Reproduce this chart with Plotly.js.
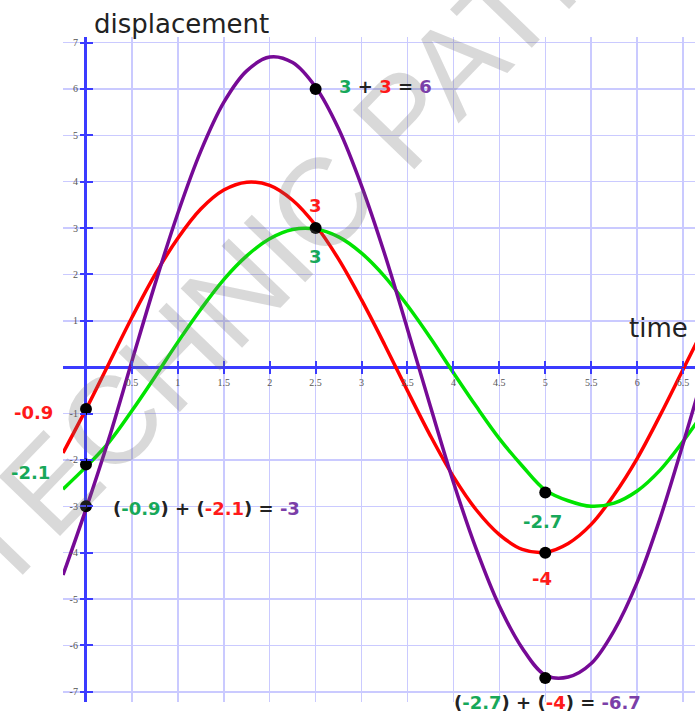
<!DOCTYPE html>
<html>
<head>
<meta charset="utf-8">
<script src="https://cdn.plot.ly/plotly-3.0.1.min.js"></script>
<style>html,body{margin:0;padding:0;background:#fff;}#chart{width:695px;height:713px;}</style>
</head>
<body>
<div id="chart"></div>
<script>
// ---- data ----
const times = [-0.25,0,0.25,0.5,0.75,1,1.25,1.5,1.75,2,2.25,2.5,2.75,3,3.25,3.5,3.75,4,4.25,4.5,4.75,5,5.25,5.5,5.75,6,6.25,6.5,6.75];
const redWave = [-1.85,-0.91,0.08,1.07,1.99,2.78,3.41,3.82,3.99,3.92,3.60,3.06,2.33,1.45,0.49,-0.51,-1.48,-2.36,-3.08,-3.61,-3.93,-3.99,-3.80,-3.39,-2.75,-1.97,-1.04,-0.05,0.94];
const greenWave = [-2.63,-2.15,-1.62,-0.94,-0.21,0.54,1.25,1.89,2.40,2.77,2.97,2.98,2.81,2.46,1.96,1.33,0.63,-0.12,-0.85,-1.54,-2.13,-2.65,-2.88,-3.00,-2.93,-2.67,-2.22,-1.60,-0.90];
const purpleWave = [-4.48,-3.06,-1.54,0.13,1.78,3.32,4.66,5.71,6.39,6.69,6.57,6.04,5.14,3.91,2.45,0.82,-0.85,-2.48,-3.93,-5.15,-6.06,-6.64,-6.68,-6.39,-5.68,-4.64,-3.26,-1.65,0.04];

const dotX = [0,0,0,2.5,2.5,5,5,5];
const dotY = [-0.9,-2.1,-3,3,6,-2.7,-4,-6.7];

const xTickVals = [0.5,1,1.5,2,2.5,3,3.5,4,4.5,5,5.5,6,6.5];
const xTickText = ['0.5','1','1.5','2','2.5','3','3.5','4','4.5','5','5.5','6','6.5'];
const yTickVals = [-7,-6,-5,-4,-3,-2,-1,1,2,3,4,5,6,7];
const yTickText = ['-7','-6','-5','-4','-3','-2','-1','1','2','3','4','5','6','7'];

// ---- styling ----
const RED = '#ff0000', GREEN = '#00e400', PURPLE = '#760a96';
const TG = '#17a85a', TR = '#ff1a1a', TP = '#7b3fa8', TK = '#222222';
const AXIS = '#3b3bff', GRID = '#cacaff';
const xRange = [-0.25, 6.63], yRange = [-7.22, 7.12];
const xPos = (0 - xRange[0]) / (xRange[1] - xRange[0]);
const yPos = (0 - yRange[0]) / (yRange[1] - yRange[0]);

const c = (col, t) => '<span style="color:' + col + '">' + t + '</span>';
const lblFont = {family: 'DejaVu Sans', size: 18, color: TK, weight: 'bold'};

const traces = [
  {x: times, y: redWave, mode: 'lines', line: {color: RED, width: 3.5, shape: 'spline', smoothing: 1}, hoverinfo: 'skip'},
  {x: times, y: greenWave, mode: 'lines', line: {color: GREEN, width: 3.5, shape: 'spline', smoothing: 1}, hoverinfo: 'skip'},
  {x: times, y: purpleWave, mode: 'lines', line: {color: PURPLE, width: 3.5, shape: 'spline', smoothing: 1}, hoverinfo: 'skip'},
  {x: dotX, y: dotY, mode: 'markers', marker: {color: '#000', size: 12}, cliponaxis: false, hoverinfo: 'skip'},
  {x: [null], y: [null], xaxis: 'x2', yaxis: 'y2', mode: 'markers', hoverinfo: 'skip'}
];

const tickFont = {family: 'Liberation Serif', size: 10, color: '#555'};

const layout = {
  width: 695, height: 713,
  margin: {l: 63, r: 0, t: 37, b: 11},
  paper_bgcolor: '#fff', plot_bgcolor: '#fff',
  showlegend: false, hovermode: false,
  xaxis: {
    range: xRange, tickvals: xTickVals, ticktext: xTickText, tickfont: tickFont,
    showgrid: true, gridcolor: GRID, gridwidth: 1.5,
    zeroline: true, zerolinecolor: AXIS, zerolinewidth: 3,
    showline: false, ticks: 'outside', ticklen: 6, tickwidth: 2, tickcolor: AXIS,
    anchor: 'free', position: yPos, fixedrange: true, automargin: false
  },
  yaxis: {
    range: yRange, tickvals: yTickVals, ticktext: yTickText, tickfont: tickFont,
    showgrid: true, gridcolor: GRID, gridwidth: 1.5,
    zeroline: true, zerolinecolor: AXIS, zerolinewidth: 3,
    showline: false, ticks: 'outside', ticklen: 6, tickwidth: 2, tickcolor: AXIS,
    anchor: 'free', position: xPos, fixedrange: true, automargin: false
  },
  xaxis2: {
    overlaying: 'x', range: xRange, tickvals: xTickVals, showticklabels: false,
    showgrid: false, zeroline: false, showline: false,
    ticks: 'inside', ticklen: 6, tickwidth: 2, tickcolor: AXIS,
    anchor: 'free', position: yPos, fixedrange: true
  },
  yaxis2: {
    overlaying: 'y', range: yRange, tickvals: yTickVals, showticklabels: false,
    showgrid: false, zeroline: false, showline: false,
    ticks: 'inside', ticklen: 6, tickwidth: 2, tickcolor: AXIS,
    anchor: 'free', position: xPos, fixedrange: true
  },
  annotations: [
    // watermark
    {x: 2.444, y: 3.276, xref: 'x', yref: 'y', text: 'TECHNIC PATNA', showarrow: false, textangle: -46,
     font: {family: 'Liberation Sans', size: 124, color: 'rgba(110,110,110,0.26)'}},
    // axis titles
    {x: 1.035, y: 1.0195, xref: 'x', yref: 'paper', text: 'displacement', showarrow: false,
     xanchor: 'center', yanchor: 'middle', font: {family: 'DejaVu Sans', size: 26, color: TK}},
    {x: 6.23, y: 0.845, xref: 'x', yref: 'y', text: 'time', showarrow: false,
     xanchor: 'center', yanchor: 'middle', font: {family: 'DejaVu Sans', size: 26, color: TK}},
    // left values
    {x: dotX[0], y: dotY[0], text: c(TR, '-0.9'), showarrow: false, xanchor: 'right', yanchor: 'middle', xshift: -31, yshift: -4, font: lblFont},
    {x: dotX[1], y: dotY[1], text: c(TG, '-2.1'), showarrow: false, xanchor: 'right', yanchor: 'middle', xshift: -34, yshift: -8, font: lblFont},
    {x: dotX[2], y: dotY[2], text: '(' + c(TG, '-0.9') + ') + (' + c(TR, '-2.1') + ') = ' + c(TP, '-3'),
     showarrow: false, xanchor: 'left', yanchor: 'middle', xshift: 25, yshift: -2, font: lblFont},
    // t = 2.5
    {x: dotX[3], y: dotY[3], text: c(TR, '3'), showarrow: false, xanchor: 'center', yanchor: 'middle', yshift: 23, font: lblFont},
    {x: dotX[3], y: dotY[3], text: c(TG, '3'), showarrow: false, xanchor: 'center', yanchor: 'middle', yshift: -28, font: lblFont},
    {x: dotX[4], y: dotY[4], text: c(TG, '3') + ' + ' + c(TR, '3') + ' = ' + c(TP, '6'),
     showarrow: false, xanchor: 'left', yanchor: 'middle', xshift: 21, yshift: 2, font: lblFont},
    // t = 5
    {x: dotX[5], y: dotY[5], text: c(TG, '-2.7'), showarrow: false, xanchor: 'center', yanchor: 'middle', xshift: -3, yshift: -29, font: lblFont},
    {x: dotX[6], y: dotY[6], text: c(TR, '-4'), showarrow: false, xanchor: 'center', yanchor: 'middle', xshift: -3, yshift: -26, font: lblFont},
    {x: dotX[7], y: dotY[7], text: '(' + c(TG, '-2.7') + ') + (' + c(TR, '-4') + ') = ' + c(TP, '-6.7'),
     showarrow: false, xanchor: 'center', yanchor: 'middle', xshift: 2, yshift: -25, font: lblFont}
  ]
};

Plotly.newPlot('chart', traces, layout, {displayModeBar: false, staticPlot: true});
</script>
</body>
</html>
